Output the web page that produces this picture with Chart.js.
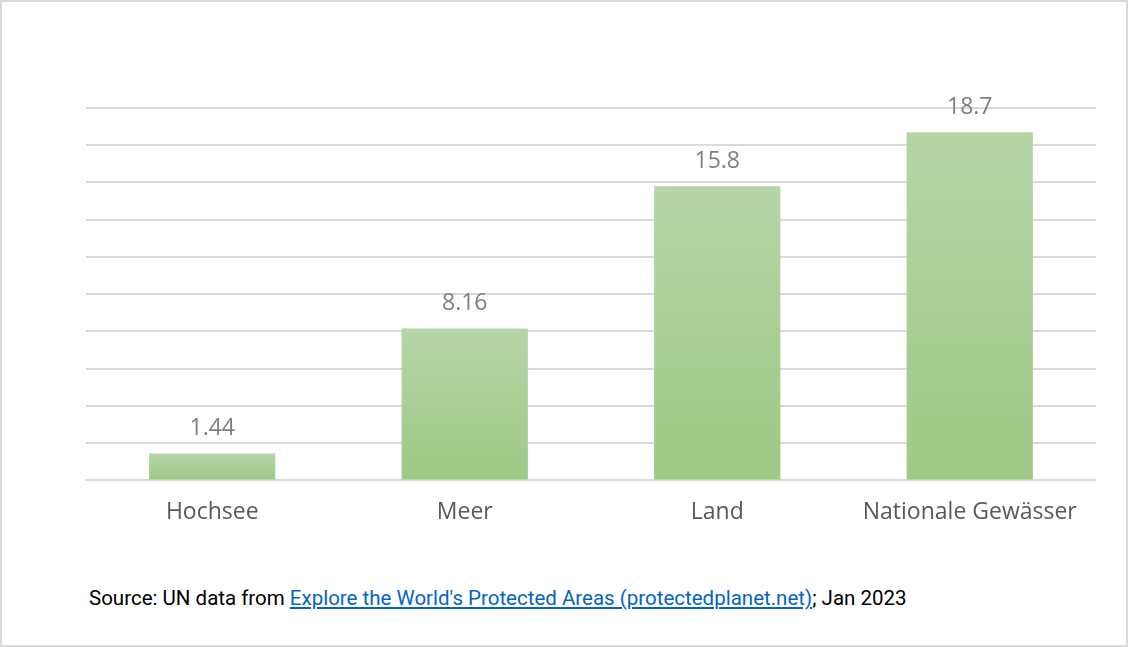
<!DOCTYPE html>
<html>
<head>
<meta charset="utf-8">
<script src="https://cdn.jsdelivr.net/npm/chart.js@4/dist/chart.umd.min.js"></script>
<style>
  html, body { margin: 0; padding: 0; background: #fff; }
  #frame {
    position: relative; width: 1128px; height: 647px; box-sizing: border-box;
    border: 2px solid #d9d9d9; overflow: hidden;
  }
  #wrap { position: absolute; left: -2px; top: -2px; width: 1128px; height: 560px; }
  #source {
    position: absolute; left: 87px; top: 584px;
    font-family: "Roboto", "Noto Sans", sans-serif; font-size: 20.5px; color: #000;
    white-space: nowrap;
  }
  #source a { color: #0563c1; text-decoration: underline; }
</style>
</head>
<body>
<div id="frame">
  <div id="wrap"><canvas id="areaChart"></canvas></div>
  <div id="source">Source: UN data from <a href="#">Explore the World's Protected Areas (protectedplanet.net)</a>; Jan 2023</div>
</div>
<script>
var categories = [ "Hochsee", "Meer", "Land", "Nationale Gewässer" ];
var protectedShare = [ 1.44, 8.16, 15.8, 18.7 ];
var valueLabels = [ "1.44", "8.16", "15.8", "18.7" ];

// vertical gradient per bar, lighter at the top
function barFill(c) {
    var y = c.chart.scales.y;
    if (!y || c.raw === undefined) return '#a9cf97';
    var top = y.getPixelForValue(c.raw);
    var bottom = y.getPixelForValue(0);
    if (!isFinite(top) || !isFinite(bottom) || top === bottom) return '#a9cf97';
    var g = c.chart.ctx.createLinearGradient(0, top, 0, bottom);
    g.addColorStop(0, '#b5d5a7');
    g.addColorStop(1, '#9dc985');
    return g;
}

// value labels above each bar
var valueLabelPlugin = {
    id: 'valueLabels',
    afterDatasetsDraw: function(chart) {
	var ctx = chart.ctx;
	var meta = chart.getDatasetMeta(0);
	ctx.save();
	ctx.font = '23px "Open Sans", "Noto Sans", sans-serif';
	ctx.fillStyle = '#7f7f7f';
	ctx.textAlign = 'center';
	ctx.textBaseline = 'middle';
	meta.data.forEach(function(bar, i) {
	    ctx.fillText(valueLabels[i], bar.x, bar.y - 25);
	});
	ctx.restore();
    }
};

function loadChart() {
    var ctx = document.getElementById("areaChart");
    var chart = new Chart(ctx, {
	type : 'bar',
	data : {
	    labels : categories,
	    datasets : [ {
		data : protectedShare,
		backgroundColor : barFill,
		borderWidth : 0,
		barPercentage : 0.5,
		categoryPercentage : 1.0
	    } ]
	},
	options : {
	    responsive : true,
	    maintainAspectRatio : false,
	    animation : false,
	    layout : { padding : { left : 86, right : 32, top : 108, bottom : 16 } },
	    plugins : { legend : { display : false }, tooltip : { enabled : false } },
	    scales : {
		x : {
		    grid : { display : false, drawTicks : false },
		    border : { display : false },
		    ticks : {
			color : '#595959',
			padding : 18,
			font : { family : '"Open Sans", "Noto Sans", sans-serif', size : 23 }
		    }
		},
		y : {
		    min : 0,
		    max : 20,
		    ticks : { stepSize : 2, display : false },
		    grid : { color : '#d9d9d9', lineWidth : 2, drawTicks : false },
		    border : { display : false }
		}
	    }
	},
	plugins : [ valueLabelPlugin ]
    });
}
loadChart();
</script>
</body>
</html>
